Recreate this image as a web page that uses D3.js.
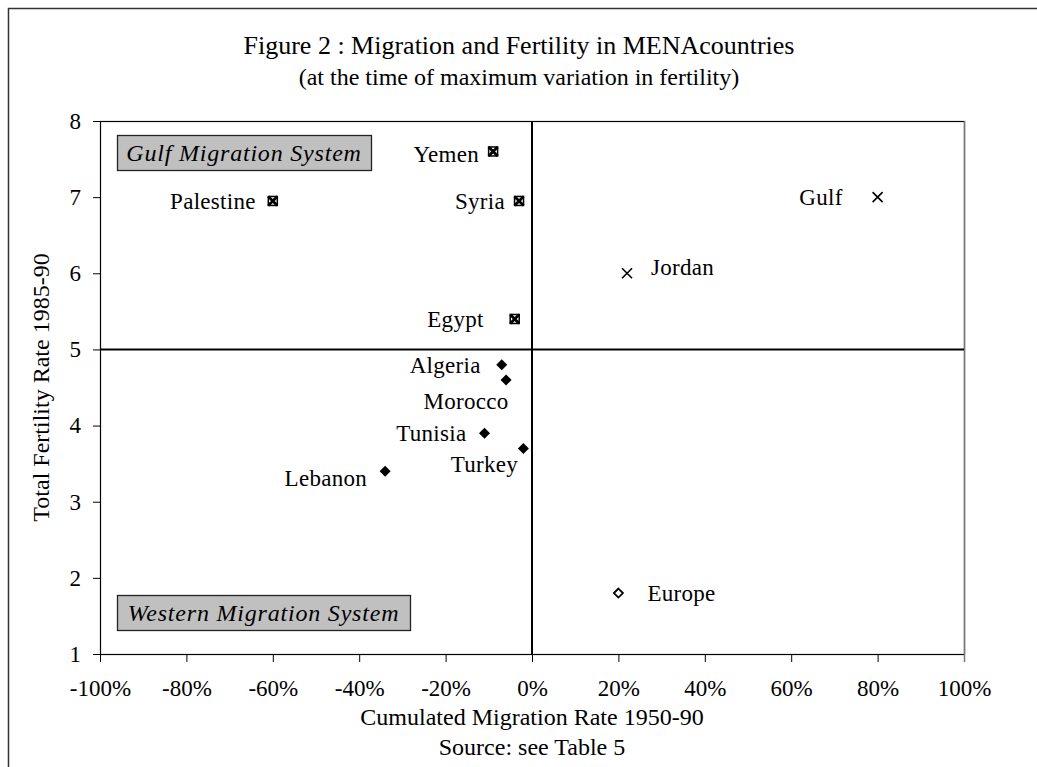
<!DOCTYPE html>
<html>
<head>
<meta charset="utf-8">
<script src="https://cdn.jsdelivr.net/npm/d3@7"></script>
<style>
  body { margin: 0; background: #fff; }
  text { font-family: "Liberation Serif", "Times New Roman", serif; fill: #000; }
</style>
</head>
<body>
<div id="chart"></div>
<script>
// data (migration rate in %, TFR)
const countries = ["Yemen", "Palestine", "Syria", "Egypt", "Jordan", "Gulf",
                   "Algeria", "Morocco", "Tunisia", "Turkey", "Lebanon", "Europe"]
const migration = [-9, -60, -3, -4, 22, 80, -7, -6, -11, -2, -34, 20]
const fertility = [7.6, 6.95, 6.95, 5.4, 6.0, 7.0, 4.8, 4.6, 3.9, 3.7, 3.4, 1.8]
const markerType = ["boxx", "boxx", "boxx", "boxx", "cross", "cross",
                    "diamond", "diamond", "diamond", "diamond", "diamond", "open"]
const xTicks = [-100, -80, -60, -40, -20, 0, 20, 40, 60, 80, 100]
const yTicks = [1, 2, 3, 4, 5, 6, 7, 8]

// label placement relative to each marker (layout only)
const labelPos = {
  Yemen: [-14, 2, "end"], Palestine: [-17, 0, "end"], Syria: [-14, 0, "end"],
  Egypt: [-31, 0, "end"], Jordan: [24, -6, "start"], Gulf: [-35, 0, "end"],
  Algeria: [-21, 0, "end"], Morocco: [-40, 21, "middle"], Tunisia: [-18, 0, "end"],
  Turkey: [-39, 16, "middle"], Lebanon: [-18, 7, "end"], Europe: [29, 0, "start"]
}

const width = 1037
const height = 767
const margin = {left: 100, top: 121, right: 73, bottom: 113}
const serif = "'Liberation Serif', 'Times New Roman', serif"

const svg = d3.select("#chart")
  .append("svg")
    .attr("width", width)
    .attr("height", height)

// outer frame (runs off the right and bottom of the page)
svg.append("rect")
  .attr("x", 8.5).attr("y", 8.5)
  .attr("width", 1100).attr("height", 900)
  .attr("fill", "none")
  .attr("stroke", "#333")
  .attr("stroke-width", 1.5)

const x = d3.scaleLinear().domain([-100, 100]).range([margin.left, width - margin.right])
const y = d3.scaleLinear().domain([1, 8]).range([height - margin.bottom, margin.top])

// title
svg.append("text")
  .attr("x", 519).attr("y", 54)
  .attr("text-anchor", "middle")
  .style("font-size", "26px")
  .text("Figure 2 : Migration and Fertility in MENAcountries")
svg.append("text")
  .attr("x", 519).attr("y", 85)
  .attr("text-anchor", "middle")
  .style("font-size", "24px")
  .text("(at the time of maximum variation in fertility)")

// axes
const xAxis = svg.append("g")
  .attr("transform", `translate(0,${y(1)})`)
  .call(d3.axisBottom(x).tickValues(xTicks).tickSize(8).tickPadding(18).tickFormat(d => d + "%"))
const yAxis = svg.append("g")
  .attr("transform", `translate(${x(-100)},0)`)
  .call(d3.axisLeft(y).tickValues(yTicks).tickSize(7).tickPadding(12).tickFormat(d3.format("d")))

for (const ax of [xAxis, yAxis]) {
  ax.attr("font-family", serif).attr("font-size", 23)
  ax.select(".domain").remove()
  ax.selectAll("line").attr("stroke", "#000")
  ax.selectAll("text")
    .style("font-size", "23px")
    .style("font-family", serif)
}

// plot frame
svg.append("rect")
  .attr("x", x(-100) + 0.5).attr("y", y(8) + 0.5)
  .attr("width", x(100) - x(-100)).attr("height", y(1) - y(8))
  .attr("fill", "none")
  .attr("stroke", "#000")
  .attr("stroke-width", 1.2)
svg.append("line")
  .attr("x1", x(100) + 0.5).attr("x2", x(100) + 0.5)
  .attr("y1", y(8)).attr("y2", y(1) + 8)
  .attr("stroke", "#777").attr("stroke-width", 1.5)

// quadrant lines
svg.append("line")
  .attr("x1", x(0)).attr("x2", x(0))
  .attr("y1", y(8)).attr("y2", y(1))
  .attr("stroke", "#000").attr("stroke-width", 2)
svg.append("line")
  .attr("x1", x(-100)).attr("x2", x(100))
  .attr("y1", y(5)).attr("y2", y(5))
  .attr("stroke", "#000").attr("stroke-width", 2)

// axis titles
svg.append("text")
  .attr("x", x(0)).attr("y", 725)
  .attr("text-anchor", "middle")
  .style("font-size", "24px")
  .text("Cumulated Migration Rate 1950-90")
svg.append("text")
  .attr("x", x(0)).attr("y", 755)
  .attr("text-anchor", "middle")
  .style("font-size", "24px")
  .text("Source: see Table 5")
svg.append("text")
  .attr("transform", `translate(49,${(y(1) + y(8)) / 2}) rotate(-90)`)
  .attr("text-anchor", "middle")
  .style("font-size", "24px")
  .text("Total Fertility Rate 1985-90")

// system boxes
function sysBox(x0, y0, w, h, label) {
  svg.append("rect")
    .attr("x", x0 + 0.5).attr("y", y0 + 0.5)
    .attr("width", w).attr("height", h)
    .attr("fill", "#c0c0c0")
    .attr("stroke", "#222")
    .attr("stroke-width", 1.3)
  svg.append("text")
    .attr("x", x0 + w / 2).attr("y", y0 + h / 2 + 8)
    .attr("text-anchor", "middle")
    .style("font-size", "24px")
    .style("font-style", "italic")
    .style("letter-spacing", "0.8px")
    .text(label)
}
sysBox(117, 135, 254, 35, "Gulf Migration System")
sysBox(117, 595, 293, 35, "Western Migration System")

// points
const pts = countries.map((c, i) => ({name: c, mx: migration[i], fy: fertility[i], type: markerType[i]}))

const node = svg.selectAll("g.node")
  .data(pts)
  .join("g")
    .attr("class", "node")
    .attr("transform", d => `translate(${x(d.mx)},${y(d.fy)})`)

node.each(function(d) {
  const g = d3.select(this)
  if (d.type === "boxx") {
    g.append("rect").attr("x", -4.5).attr("y", -4.5).attr("width", 9).attr("height", 9)
      .attr("fill", "#fff").attr("stroke", "#000").attr("stroke-width", 1.5)
    g.append("path").attr("d", "M-4.5,-4.5L4.5,4.5M4.5,-4.5L-4.5,4.5")
      .attr("stroke", "#000").attr("stroke-width", 2.8)
  } else if (d.type === "cross") {
    g.append("path").attr("d", "M-5,-5L5,5M5,-5L-5,5")
      .attr("stroke", "#000").attr("stroke-width", 1.6)
  } else if (d.type === "diamond") {
    g.append("path").attr("d", "M0,-5.5L5.5,0L0,5.5L-5.5,0Z").attr("fill", "#000")
  } else {
    g.append("path").attr("d", "M0,-4.5L4.5,0L0,4.5L-4.5,0Z")
      .attr("fill", "#fff").attr("stroke", "#000").attr("stroke-width", 1.8)
  }
})

node.append("text")
  .attr("x", d => labelPos[d.name][0])
  .attr("y", d => labelPos[d.name][1])
  .attr("dy", "0.35em")
  .attr("text-anchor", d => labelPos[d.name][2])
  .style("font-size", "23px")
  .style("letter-spacing", "0.3px")
  .text(d => d.name)
</script>
</body>
</html>
